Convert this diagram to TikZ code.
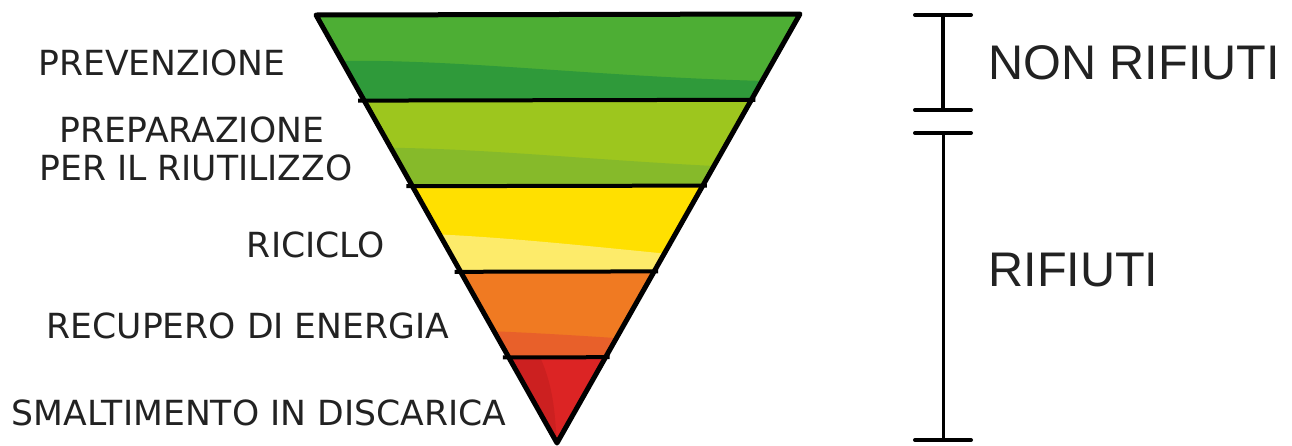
\documentclass[tikz,border=0pt]{standalone}
\usepackage{fontspec}
\setmainfont{Liberation Sans}
\newfontfamily\etichetta{DejaVu Sans}
\usetikzlibrary{calc, positioning}

\definecolor{verdeA}{HTML}{4DAE34}
\definecolor{verdeB}{HTML}{2F9A3A}
\definecolor{limeA}{HTML}{9DC61E}
\definecolor{limeB}{HTML}{86BA2A}
\definecolor{gialloA}{HTML}{FFE000}
\definecolor{gialloB}{HTML}{FDEB6A}
\definecolor{aranA}{HTML}{F07A22}
\definecolor{aranB}{HTML}{E8602A}
\definecolor{rossoA}{HTML}{DC2424}
\definecolor{rossoB}{HTML}{CC2020}
\definecolor{testo}{HTML}{222222}

\begin{document}
\begin{tikzpicture}
  [x=0.5pt,y=-0.5pt,every node/.style={text=testo,inner sep=0pt},
   livello/.style={font=\etichetta\fontsize{17.3}{20}\selectfont},
   categoria/.style={font=\fontsize{24.3}{28}\selectfont,anchor=west},
   tacca/.style={line width=2pt,line cap=round}]
  \useasboundingbox (0,0) rectangle (1292,445);
  \fill[white] (0,0) rectangle (1292,445);

  \coordinate (tl) at (316,15);
  \coordinate (tr) at (800,14);
  \coordinate (ap) at (557,443);

  % fasce colorate
  \begin{scope}
    \clip (tl) -- (tr) -- (ap) -- cycle;
    \fill[verdeA]  (300,0)   rectangle (820,100);
    \fill[verdeB]  (300,100) -- (300,62) .. controls (450,55) and (600,80) .. (820,82) -- (820,100) -- cycle;
    \fill[limeA]   (300,100) rectangle (820,186);
    \fill[limeB]   (300,186) -- (300,150) .. controls (450,140) and (600,165) .. (820,170) -- (820,186) -- cycle;
    \fill[gialloA] (300,186) rectangle (820,273);
    \fill[gialloB] (300,273) -- (300,235) .. controls (450,225) and (600,250) .. (820,268) -- (820,273) -- cycle;
    \fill[aranA]   (300,273) rectangle (820,357);
    \fill[aranB]   (300,357) -- (300,335) .. controls (450,320) and (600,340) .. (820,350) -- (820,357) -- cycle;
    \fill[rossoA]  (300,357) rectangle (820,445);
    \fill[rossoB]  (300,357) -- (540,357) .. controls (555,390) and (555,420) .. (557,445) -- (300,445) -- cycle;
  \end{scope}

  % contorno e divisori
  \draw[line width=2.5pt,line join=round] (tl) -- (tr) -- (ap) -- cycle;
  \foreach \t in {0.2,0.4,0.6,0.8}
    \draw[line width=2pt] ($(tl)!\t!(ap)+(-6,0)$) -- ($(tr)!\t!(ap)+(4,0)$);

  % etichette dei livelli
  \node[livello] (prev) at (162,63)  {PREVENZIONE};
  \node[livello] (prep) at (192,130) {PREPARAZIONE};
  \node[livello] (riut) at (196,168) {PER IL RIUTILIZZO};
  \node[livello] (ricl) at (316,245) {RICICLO};
  \node[livello] (recu) at (248,326) {RECUPERO DI ENERGIA};
  \node[livello] (smal) at (259,413) {SMALTIMENTO IN DISCARICA};

  % scala a destra
  \coordinate (s1) at (943,15);
  \coordinate (s2) at (943,110);
  \coordinate (s3) at (943,133);
  \coordinate (s4) at (943,440);
  \draw[line width=2pt] (s1) -- (s2);
  \draw[line width=1.5pt] (s3) -- (s4);
  \foreach \s in {s1,s2,s3,s4}
    \draw[tacca] ($(\s)+(-28,0)$) -- ($(\s)+(28,0)$);

  \node[categoria] (nonrif) at (988,63)  {NON RIFIUTI};
  \node[categoria] (rif)    at (988,270) {RIFIUTI};
\end{tikzpicture}
\end{document}
